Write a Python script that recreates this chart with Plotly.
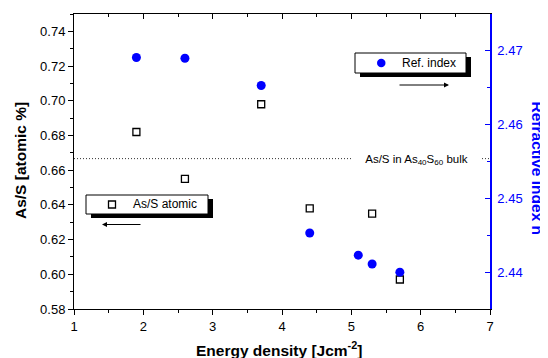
import plotly.graph_objects as go

# ---- data ----
energy_as = [1.9, 2.6, 3.7, 4.4, 5.3, 5.7]
as_s_ratio = [0.682, 0.655, 0.698, 0.638, 0.635, 0.597]
energy_n = [1.9, 2.6, 3.7, 4.4, 5.1, 5.3, 5.7]
refr_index = [2.4691, 2.4690, 2.4653, 2.4453, 2.4423, 2.4411, 2.4400]
bulk_ratio = 40 / 60
x_range = [1, 7]
y_left_range = [0.58, 0.75]
y_right_range = [2.435, 2.475]

FONT = "Liberation Sans, Arial, sans-serif"
BLUE = "#0000FF"

# page has an 8px body margin; figure is 540x350 so it fits the 548x358 window
OFF = 8
W, H = 540, 350
# plot area in page pixels (for decorations)
L, R, T, B = 74, 490, 14, 309


def px(x):
    return (x - L) / (R - L)


def py(y):
    return (B - y) / (B - T)


fig = go.Figure()

# bulk reference line (drawn on top x axis overlay, same scale)
fig.add_trace(go.Scatter(
    x=x_range, y=[bulk_ratio, bulk_ratio], xaxis="x2", yaxis="y",
    mode="lines", line=dict(color="#333333", width=1, dash="1px,2px"),
    showlegend=False, hoverinfo="skip"))

fig.add_trace(go.Scatter(
    x=energy_as, y=as_s_ratio, xaxis="x", yaxis="y", mode="markers",
    name="As/S atomic",
    marker=dict(symbol="square", size=7, color="white",
                line=dict(color="black", width=1.3)),
    showlegend=False))

fig.add_trace(go.Scatter(
    x=energy_n, y=refr_index, xaxis="x", yaxis="y2", mode="markers",
    name="Ref. index",
    marker=dict(symbol="circle", size=9, color=BLUE, line=dict(width=0)),
    showlegend=False))

shapes = []
annotations = []

# legend box 1 (As/S atomic)
b1 = (86, 195, 208, 214)
shapes.append(dict(type="rect", xref="paper", yref="paper",
                   x0=px(b1[0] + 5), x1=px(b1[2] + 5), y0=py(b1[1] + 4), y1=py(b1[3] + 4),
                   fillcolor="black", line=dict(width=0), layer="above"))
shapes.append(dict(type="rect", xref="paper", yref="paper",
                   x0=px(b1[0]), x1=px(b1[2]), y0=py(b1[1]), y1=py(b1[3]),
                   fillcolor="white", line=dict(color="black", width=1), layer="above"))
shapes.append(dict(type="rect", xref="paper", yref="paper",
                   x0=px(108.5), x1=px(115.5), y0=py(201), y1=py(208),
                   fillcolor="white", line=dict(color="black", width=1.3), layer="above"))
annotations.append(dict(text="As/S atomic", xref="paper", yref="paper",
                        x=px(131), y=py(204.5), xanchor="left", yanchor="middle",
                        showarrow=False, font=dict(family=FONT, size=12, color="black")))
# arrow pointing left
annotations.append(dict(text="", xref="paper", yref="paper", x=px(102), y=py(224.5),
                        ax=40, ay=0, showarrow=True, arrowhead=2, arrowsize=1,
                        arrowwidth=1, arrowcolor="black", standoff=0))

# legend box 2 (Ref. index)
b2 = (355, 53, 466, 73)
shapes.append(dict(type="rect", xref="paper", yref="paper",
                   x0=px(b2[0] + 5), x1=px(b2[2] + 5), y0=py(b2[1] + 4), y1=py(b2[3] + 4),
                   fillcolor="black", line=dict(width=0), layer="above"))
shapes.append(dict(type="rect", xref="paper", yref="paper",
                   x0=px(b2[0]), x1=px(b2[2]), y0=py(b2[1]), y1=py(b2[3]),
                   fillcolor="white", line=dict(color="black", width=1), layer="above"))
shapes.append(dict(type="circle", xref="paper", yref="paper",
                   x0=px(377), x1=px(385.5), y0=py(58.8), y1=py(67.3),
                   fillcolor=BLUE, line=dict(width=0), layer="above"))
annotations.append(dict(text="Ref. index", xref="paper", yref="paper",
                        x=px(400), y=py(63), xanchor="left", yanchor="middle",
                        showarrow=False, font=dict(family=FONT, size=12, color="black")))
annotations.append(dict(text="", xref="paper", yref="paper", x=px(449), y=py(85),
                        ax=-51, ay=0, showarrow=True, arrowhead=2, arrowsize=1,
                        arrowwidth=1, arrowcolor="black", standoff=0))

# bulk label
annotations.append(dict(text="As/S in As<sub>40</sub>S<sub>60</sub> bulk",
                        xref="paper", yref="paper", x=px(416.5), y=py(160),
                        xanchor="center", yanchor="middle", width=125, align="center",
                        bgcolor="white", showarrow=False,
                        font=dict(family=FONT, size=11.5, color="black")))

# axis titles
annotations.append(dict(text="<b>As/S [atomic %]</b>", xref="paper", yref="paper",
                        x=px(20), y=py(160), xanchor="center", yanchor="middle",
                        textangle=-90, showarrow=False,
                        font=dict(family=FONT, size=15.5, color="black")))
annotations.append(dict(text="<b>Energy density [Jcm<sup>-2</sup>]</b>", xref="paper", yref="paper",
                        x=px(279), y=py(349), xanchor="center", yanchor="middle",
                        showarrow=False, font=dict(family=FONT, size=15.5, color="black")))
annotations.append(dict(text="<b>Refractive index n</b>", xref="paper", yref="paper",
                        x=px(537.5), y=py(168), xanchor="center", yanchor="middle",
                        textangle=90, showarrow=False,
                        font=dict(family=FONT, size=15.5, color=BLUE)))

tickfont = dict(family=FONT, size=13, color="black")

fig.update_layout(
    width=W, height=H,
    margin=dict(l=L - OFF, r=W - (R - OFF), t=T - OFF, b=H - (B - OFF), pad=0),
    paper_bgcolor="white", plot_bgcolor="white",
    showlegend=False,
    font=dict(family=FONT, size=13, color="black"),
    xaxis=dict(range=x_range, tick0=1, dtick=1, ticks="outside", ticklen=5, tickwidth=1,
               tickcolor="black", showline=True, linecolor="black", linewidth=1,
               showgrid=False, zeroline=False, tickfont=tickfont,
               minor=dict(dtick=0.5, ticks="outside", ticklen=3, tickcolor="black")),
    xaxis2=dict(range=x_range, overlaying="x", side="top", anchor="y", tick0=1, dtick=1,
                ticks="inside", ticklen=5, tickcolor="black", showline=True,
                linecolor="black", linewidth=1, showticklabels=False, showgrid=False,
                zeroline=False,
                minor=dict(dtick=0.5, ticks="inside", ticklen=3, tickcolor="black")),
    yaxis=dict(range=y_left_range, tick0=0.58, dtick=0.02, tickformat=".2f",
               ticks="outside", ticklen=5, tickcolor="black", showline=True,
               linecolor="black", linewidth=1, showgrid=False, zeroline=False,
               tickfont=tickfont,
               minor=dict(dtick=0.01, ticks="outside", ticklen=3, tickcolor="black")),
    yaxis2=dict(range=y_right_range, overlaying="y", side="right", anchor="x",
                tick0=2.44, dtick=0.01, tickformat=".2f", ticks="inside", ticklen=5,
                tickcolor=BLUE, showline=True, linecolor=BLUE, linewidth=1.5,
                showgrid=False, zeroline=False, ticklabelstandoff=3,
                tickfont=dict(family=FONT, size=13, color=BLUE),
                minor=dict(dtick=0.005, ticks="inside", ticklen=3, tickcolor=BLUE)),
    shapes=shapes,
    annotations=annotations,
)

fig.write_html("out.html")
